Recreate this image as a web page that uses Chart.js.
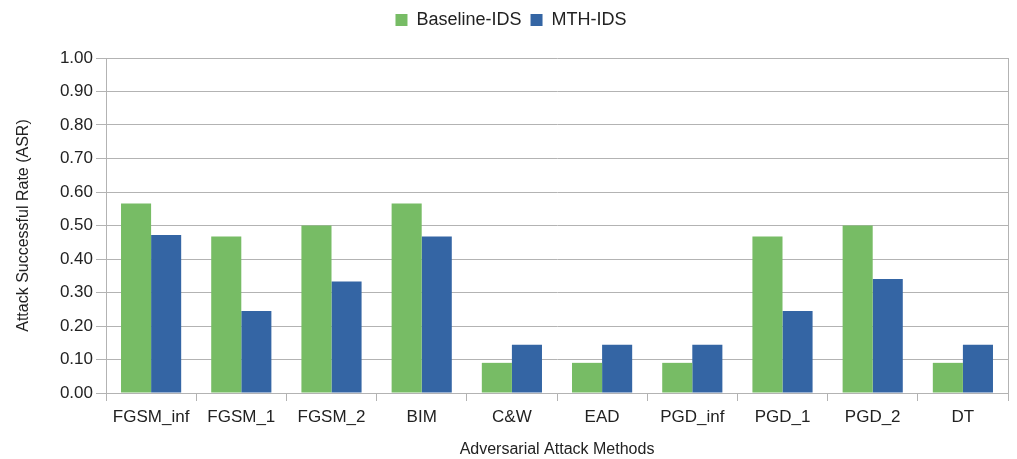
<!DOCTYPE html>
<html lang="en">
<head>
  <meta charset="UTF-8">
  <title>Attack Successful Rate</title>
  <style>
    * { margin: 0; padding: 0; box-sizing: border-box; }
    body { background: #fff; }
    #wrap { width: 1017px; height: 459px; }
  </style>
  <script src="https://cdn.jsdelivr.net/npm/chart.js"></script>
</head>
<body>
  <div id="wrap"><canvas id="asrChart"></canvas></div>

  <script>
    const methods = ["FGSM_inf", "FGSM_1", "FGSM_2", "BIM", "C&W", "EAD", "PGD_inf", "PGD_1", "PGD_2", "DT"];
    const baselineIds = [0.566, 0.467, 0.50, 0.566, 0.09, 0.09, 0.09, 0.467, 0.50, 0.09];
    const mthIds = [0.472, 0.245, 0.333, 0.467, 0.144, 0.144, 0.144, 0.245, 0.34, 0.144];

    const gridColor = "#b3b3b3";
    const fontFamily = "'Liberation Sans', Arial, sans-serif";

    // right border of the plot frame
    const frameRight = {
      id: "frameRight",
      afterDraw(chart) {
        const { ctx, chartArea } = chart;
        ctx.save();
        ctx.strokeStyle = gridColor;
        ctx.lineWidth = 1;
        ctx.beginPath();
        ctx.moveTo(chartArea.right + 0.5, chartArea.top);
        ctx.lineTo(chartArea.right + 0.5, chartArea.bottom);
        ctx.stroke();
        ctx.restore();
      }
    };

    // extra gap below the legend
    const legendGap = {
      id: "legendGap",
      afterInit(chart) {
        const legend = chart.legend;
        if (!legend) return;
        const fit = legend.fit;
        legend.fit = function () {
          fit.call(this);
          this.height += 19;
        };
      }
    };

    new Chart(document.getElementById("asrChart"), {
      type: "bar",
      data: {
        labels: methods,
        datasets: [
          {
            label: "Baseline-IDS",
            data: baselineIds,
            backgroundColor: "#77bc65",
            borderWidth: 0
          },
          {
            label: "MTH-IDS",
            data: mthIds,
            backgroundColor: "#3465a4",
            borderWidth: 0
          }
        ]
      },
      options: {
        responsive: true,
        maintainAspectRatio: false,
        animation: false,
        layout: { padding: { left: 14, right: 9, top: 2, bottom: 0 } },
        datasets: {
          bar: { categoryPercentage: 0.667, barPercentage: 1.0 }
        },
        plugins: {
          legend: {
            position: "top",
            labels: {
              boxWidth: 12,
              boxHeight: 12,
              padding: 9,
              color: "#222",
              font: { family: fontFamily, size: 18 }
            }
          },
          tooltip: { enabled: false }
        },
        scales: {
          x: {
            offset: true,
            afterFit: s => { s.height = 66; },
            grid: {
              offset: true,
              drawOnChartArea: false,
              drawTicks: true,
              tickLength: 8,
              color: gridColor
            },
            border: { color: gridColor },
            ticks: {
              color: "#222",
              padding: 6,
              font: { family: fontFamily, size: 17 }
            },
            title: {
              display: true,
              text: "Adversarial Attack Methods",
              color: "#222",
              padding: { top: 11, bottom: 0 },
              font: { family: fontFamily, size: 16 }
            }
          },
          y: {
            min: 0,
            max: 1,
            afterFit: s => { s.width = 92; },
            grid: {
              color: gridColor,
              drawTicks: true,
              tickLength: 10
            },
            border: { color: gridColor },
            ticks: {
              stepSize: 0.1,
              color: "#222",
              padding: 3,
              font: { family: fontFamily, size: 17 },
              callback: v => v.toFixed(2)
            },
            title: {
              display: true,
              text: "Attack Successful Rate (ASR)",
              color: "#222",
              padding: { top: 0, bottom: 0 },
              font: { family: fontFamily, size: 16 }
            }
          }
        }
      },
      plugins: [frameRight, legendGap]
    });
  </script>
</body>
</html>
